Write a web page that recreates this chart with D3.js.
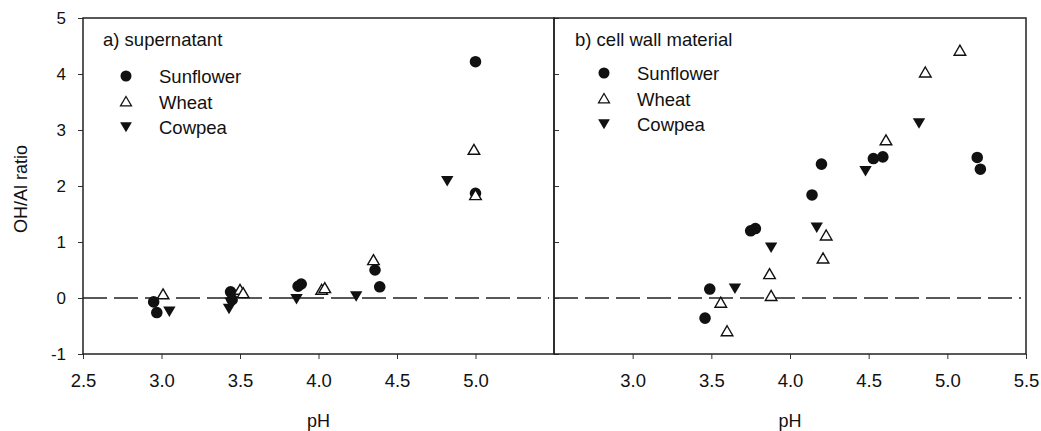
<!DOCTYPE html>
<html>
<head>
<meta charset="utf-8">
<script src="https://cdn.jsdelivr.net/npm/d3@7"></script>
<style>
    body { margin: 0; background: #fff; }
    svg { display: block; font-family: "Liberation Sans", Arial, sans-serif; }
    .axis path, .axis line { stroke: #333; }
    .axis text { fill: #111; }
</style>
</head>
<body>
<div id="chart"></div>
<script>
// [pH, OH/Al ratio]
var supSunflower = [[2.95, -0.07], [2.97, -0.26], [3.44, 0.11], [3.45, -0.03], [3.87, 0.21], [3.89, 0.25],
                    [4.36, 0.50], [4.39, 0.20], [5.00, 4.22], [5.00, 1.87]];
var supWheat = [[3.01, 0.07], [3.50, 0.15], [3.52, 0.09], [4.02, 0.15], [4.04, 0.18], [4.35, 0.68],
                [4.99, 2.65], [5.00, 1.84]];
var supCowpea = [[3.05, -0.24], [3.43, -0.19], [3.44, -0.08], [3.86, -0.02], [4.24, 0.03], [4.82, 2.09]];

var cwSunflower = [[3.46, -0.36], [3.49, 0.16], [3.75, 1.20], [3.78, 1.24], [4.14, 1.84], [4.20, 2.39],
                   [4.53, 2.49], [4.59, 2.52], [5.19, 2.51], [5.21, 2.30]];
var cwWheat = [[3.56, -0.08], [3.60, -0.59], [3.87, 0.43], [3.88, 0.04], [4.21, 0.71], [4.23, 1.12],
               [4.61, 2.82], [4.86, 4.03], [5.08, 4.42]];
var cwCowpea = [[3.65, 0.17], [3.88, 0.90], [4.17, 1.26], [4.48, 2.27], [4.82, 3.12]];

var seriesNames = ['Sunflower', 'Wheat', 'Cowpea'];
var yTicks = [-1, 0, 1, 2, 3, 4, 5];
var leftXTicks = [2.5, 3.0, 3.5, 4.0, 4.5, 5.0];
var rightXTicks = [3.0, 3.5, 4.0, 4.5, 5.0, 5.5];

var width = 1041, height = 431;
var plotTop = 18, plotBottom = 354;

var svg = d3.select('#chart')
    .append('svg')
    .attr('width', width)
    .attr('height', height);

var y = d3.scaleLinear().domain([-1, 5]).range([plotBottom, plotTop]);

var symbols = {
    Sunflower: { path: d3.symbol().type(d3.symbolCircle).size(Math.PI * 5.8 * 5.8)(), fill: '#111', stroke: 'none' },
    Wheat: { path: 'M0,-5.3L5.8,4.7L-5.8,4.7Z', fill: '#fff', stroke: '#111' },
    Cowpea: { path: 'M-6.2,-5L6.2,-5L0,5.5Z', fill: '#111', stroke: 'none' }
};

var panels = [
    { x0: 83, x1: 554, title: 'a) supernatant', xTicks: leftXTicks,
      data: { Sunflower: supSunflower, Wheat: supWheat, Cowpea: supCowpea },
      legendX: 126, legendY: 76, titleX: 103, outerY: true },
    { x0: 554, x1: 1026, title: 'b) cell wall material', xTicks: rightXTicks,
      data: { Sunflower: cwSunflower, Wheat: cwWheat, Cowpea: cwCowpea },
      legendX: 604, legendY: 73, titleX: 575, outerY: false }
];

panels.forEach(function (p) {
    var x = d3.scaleLinear().domain([2.5, 5.5]).range([p.x0, p.x1]);
    var g = svg.append('g');

    // zero reference line
    g.append('line')
        .attr('x1', x(2.5)).attr('x2', x(5.5) - 5)
        .attr('y1', y(0)).attr('y2', y(0))
        .attr('stroke', '#222')
        .attr('stroke-width', 1.3)
        .attr('stroke-dasharray', '24,7');

    // x axis
    var xAxis = g.append('g')
        .attr('class', 'axis')
        .attr('transform', 'translate(0,' + plotBottom + ')')
        .call(d3.axisBottom(x).tickValues(p.xTicks).tickSize(5).tickSizeOuter(0).tickFormat(d3.format('.1f')));
    xAxis.select('.domain').remove();
    xAxis.selectAll('line').attr('stroke', '#777');
    xAxis.selectAll('text').attr('font-size', 18.5).attr('dy', 0).attr('y', 33);

    // y axis
    var yAxis = g.append('g')
        .attr('class', 'axis')
        .attr('transform', 'translate(' + p.x0 + ',0)')
        .call((p.outerY ? d3.axisLeft(y) : d3.axisRight(y))
            .tickValues(yTicks).tickSize(5).tickSizeOuter(0)
            .tickFormat(function (d) { return String(d); }));
    yAxis.select('.domain').remove();
    if (p.outerY) {
        yAxis.selectAll('text').attr('font-size', 17).attr('x', -17);
    } else {
        yAxis.selectAll('text').remove();
    }

    // frame
    g.append('rect')
        .attr('x', p.x0).attr('y', plotTop)
        .attr('width', p.x1 - p.x0).attr('height', plotBottom - plotTop)
        .attr('fill', 'none')
        .attr('stroke', '#222')
        .attr('stroke-width', 1.5);

    // points
    seriesNames.forEach(function (name) {
        var s = symbols[name];
        g.selectAll('path.pt-' + name)
            .data(p.data[name])
            .enter()
            .append('path')
            .attr('class', 'pt-' + name)
            .attr('d', s.path)
            .attr('fill', s.fill)
            .attr('stroke', s.stroke)
            .attr('stroke-width', 1.4)
            .attr('transform', function (d) {
                return 'translate(' + x(d[0]) + ',' + y(d[1]) + ')';
            });
    });

    // title
    g.append('text')
        .attr('x', p.titleX).attr('y', 46)
        .attr('font-size', 18.5)
        .attr('fill', '#111')
        .text(p.title);

    // legend
    var leg = g.selectAll('g.legend')
        .data(seriesNames)
        .enter()
        .append('g')
        .attr('class', 'legend')
        .attr('transform', function (d, i) {
            return 'translate(' + p.legendX + ',' + (p.legendY + i * 25.5) + ')';
        });
    leg.append('path')
        .attr('d', function (d) { return symbols[d].path; })
        .attr('fill', function (d) { return symbols[d].fill; })
        .attr('stroke', function (d) { return symbols[d].stroke; })
        .attr('stroke-width', 1.3)
        .attr('transform', 'scale(0.95)');
    leg.append('text')
        .attr('x', 33).attr('y', 7)
        .attr('font-size', 18.5)
        .attr('fill', '#111')
        .text(function (d) { return d; });

    // x axis label
    g.append('text')
        .attr('x', (p.x0 + p.x1) / 2).attr('y', 427)
        .attr('text-anchor', 'middle')
        .attr('font-size', 18)
        .attr('fill', '#111')
        .text('pH');
});

// y axis label
svg.append('text')
    .attr('transform', 'translate(27,' + ((plotTop + plotBottom) / 2 + 3) + ') rotate(-90)')
    .attr('text-anchor', 'middle')
    .attr('font-size', 18)
    .attr('fill', '#111')
    .text('OH/Al ratio');
</script>
</body>
</html>
